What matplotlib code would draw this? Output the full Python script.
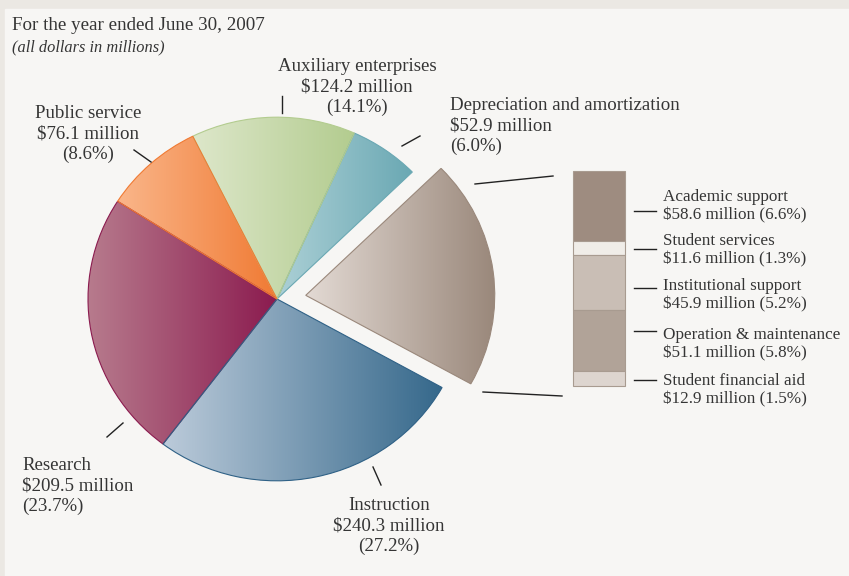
import numpy as np
import matplotlib
matplotlib.use("Agg")
import matplotlib.pyplot as plt
from matplotlib.colors import LinearSegmentedColormap
from matplotlib.transforms import Affine2D

W, H = 849, 576

# slices, counterclockwise from research
names = ["Research", "Instruction", "Other", "Depreciation and amortization",
         "Auxiliary enterprises", "Public service"]
amounts = [209.5, 240.3, 180.1, 52.9, 124.2, 76.1]
light = ["#b77b8d", "#bccbda", "#e3dad4", "#acd0d6", "#dde7ca", "#fab68a"]
dark = ["#8b1b4f", "#35688b", "#9a887b", "#6aa8b3", "#b3cc8f", "#f07a33"]
edges = ["#8b1b4f", "#2f6186", "#9a887b", "#6aa8b3", "#b3cc8f", "#f07a33"]

# breakdown of the exploded slice
sub_names = ["Academic support", "Student services", "Institutional support",
             "Operation & maintenance", "Student financial aid"]
sub_amounts = [58.6, 11.6, 45.9, 51.1, 12.9]
sub_pct = [6.6, 1.3, 5.2, 5.8, 1.5]
sub_colors = ["#9e8c80", "#f0ede8", "#c9beb5", "#b1a398", "#ddd5cf"]

txt = "#353535"
font = "Liberation Serif"


def Y(y):
    return H - y


fig = plt.figure(figsize=(W / 100, H / 100), dpi=100)
fig.patch.set_facecolor("#ebe8e3")
ax = fig.add_axes([0, 0, 1, 1])

# panel
ax.add_patch(plt.Rectangle((5, 0), W - 5, H - 9, color="#f7f6f4", zorder=0))

cx, cy = 277, Y(299)
# explode is in data units here (pixels)
wedges, _ = ax.pie(amounts, startangle=147.5, counterclock=True,
                   center=(cx, cy), radius=189,
                   explode=[0, 0, 29, 0, 0, 0],
                   wedgeprops=dict(linewidth=0.8))

# the original pie is a little squashed vertically
squash = Affine2D().translate(-cx, -cy).scale(1, 0.962).translate(cx, cy)

grad = np.linspace(0, 1, 256).reshape(1, -1)
for w, c0, c1, ec in zip(wedges, light, dark, edges):
    bb = w.get_path().get_extents()
    w.set_transform(squash + ax.transData)
    cmap = LinearSegmentedColormap.from_list("g", [c0, c1])
    im = ax.imshow(grad, extent=[bb.x0, bb.x1, bb.y0 - 10, bb.y1 + 10], cmap=cmap,
                   aspect="auto", interpolation="bilinear", zorder=1)
    im.set_clip_path(w)
    w.set_facecolor("none")
    w.set_edgecolor(ec)
    w.set_zorder(2)

# stacked bar
scale = 215 / sum(sub_amounts)
heights = np.array(sub_amounts) * scale
bottoms = Y(171) - np.cumsum(heights)
ax.bar(599, heights, bottom=bottoms, width=52, color=sub_colors,
       edgecolor="#a89b90", linewidth=0.8, zorder=2)

ax.set_xlim(0, W)
ax.set_ylim(0, H)
ax.set_aspect("auto")
ax.axis("off")

# title
ax.text(12, Y(25), "For the year ended June 30, 2007", family=font,
        fontsize=13.7, color=txt, va="center")
ax.text(12, Y(47), "(all dollars in millions)", family=font, style="italic",
        fontsize=11.8, color=txt, va="center")

lbl = dict(family=font, fontsize=13.6, color=txt, va="center", linespacing=1.26)
ax.text(357, Y(87), "Auxiliary enterprises\n$124.2 million\n(14.1%)", ha="center", **lbl)
ax.text(450, Y(126), "Depreciation and amortization\n$52.9 million\n(6.0%)", ha="left", **lbl)
ax.text(88, Y(134), "Public service\n$76.1 million\n(8.6%)", ha="center", **lbl)
ax.text(22, Y(486), "Research\n$209.5 million\n(23.7%)", ha="left", **lbl)
ax.text(389, Y(526), "Instruction\n$240.3 million\n(27.2%)", ha="center", **lbl)

# tick lines to labels
ticks = [((282, 96), (282, 113)), ((402, 146), (420, 136)),
         ((134, 150), (151, 162)), ((107, 437), (123, 423)),
         ((373, 467), (381, 485)),
         ((475, 184), (553, 176)), ((483, 392), (562, 396))]
for (x0, y0), (x1, y1) in ticks:
    ax.plot([x0, x1], [Y(y0), Y(y1)], color="#222222", lw=1, zorder=3)

# bar labels
tick_y = [211, 249, 288, 331, 380]
for ty in tick_y:
    ax.plot([634, 656], [Y(ty), Y(ty)], color="#222222", lw=1, zorder=3)
label_y = [206, 250, 295, 344, 390]
for nm, amt, p, ly in zip(sub_names, sub_amounts, sub_pct, label_y):
    ax.text(663, Y(ly), f"{nm}\n${amt} million ({p}%)", family=font,
            fontsize=12.3, color=txt, va="center", linespacing=1.17)

fig.savefig("out.png", dpi=100, facecolor=fig.get_facecolor())
